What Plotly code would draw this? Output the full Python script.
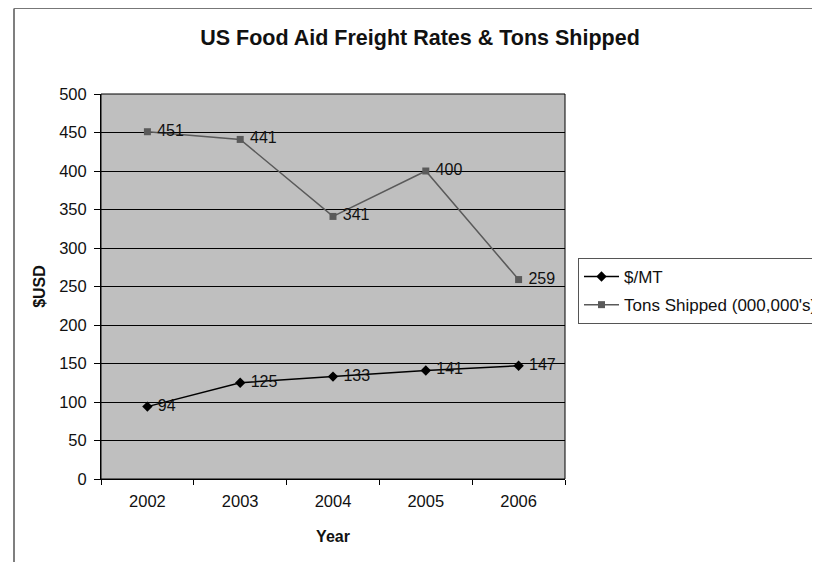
import plotly.graph_objects as go

years = ["2002", "2003", "2004", "2005", "2006"]
rate_usd_mt = [94, 125, 133, 141, 147]
tons_shipped = [451, 441, 341, 400, 259]
y_ticks = [0, 50, 100, 150, 200, 250, 300, 350, 400, 450, 500]

OFF = 8  # page body offset
W, H = 820, 562
L, R, T, B = 101 - OFF, 565 - OFF, 94 - OFF, 479 - OFF

fig = go.Figure()
fig.add_trace(go.Scatter(
    x=years, y=rate_usd_mt, name="$/MT", mode="lines+markers+text",
    legendgroup="a",
    line=dict(color="#000000", width=1.5),
    marker=dict(symbol="diamond", size=8, color="#000000"),
    text=[" " + str(v) for v in rate_usd_mt], textposition="middle right",
    textfont=dict(family="Liberation Sans, Arial", size=16, color="#111111"),
))
fig.add_trace(go.Scatter(
    x=years, y=tons_shipped, name="Tons Shipped (000,000's)", mode="lines+markers+text",
    legendgroup="b",
    line=dict(color="#5a5a5a", width=1.5),
    marker=dict(symbol="square", size=7, color="#5a5a5a"),
    text=[" " + str(v) for v in tons_shipped], textposition="middle right",
    textfont=dict(family="Liberation Sans, Arial", size=16, color="#111111"),
))

def px(x):
    return (x - OFF - L) / (R - L)

def py(y):
    return (B - (y - OFF)) / (B - T)

fig.update_layout(
    width=W, height=H,
    margin=dict(l=L, r=W - R, t=T, b=H - B, autoexpand=False),
    paper_bgcolor="white", plot_bgcolor="#bfbfbf",
    font=dict(family="Liberation Sans, Arial", size=14, color="#111111"),
    title=dict(text="<b>US Food Aid Freight Rates & Tons Shipped</b>",
               x=(420 - OFF) / W, xanchor="center", y=1 - (37 - OFF) / H, yanchor="middle",
               font=dict(size=21.5, color="#111111")),
    showlegend=True,
    legend=dict(x=px(578), y=py(258), xanchor="left", yanchor="top",
                bgcolor="white", bordercolor="#555555", borderwidth=1,
                font=dict(size=17, color="#111111"), tracegroupgap=3,
                itemwidth=35),
    xaxis=dict(type="category", range=[-0.5, 4.5], showgrid=False,
               showline=True, linecolor="#000000", linewidth=1,
               ticks="outside", tickson="boundaries", ticklen=5, tickcolor="#000000",
               tickfont=dict(size=16.5), ticklabelstandoff=7,
               title=dict(text="<b>Year</b>", font=dict(size=16), standoff=22)),
    yaxis=dict(range=[0, 500], tickvals=y_ticks, showgrid=True,
               gridcolor="#000000", gridwidth=1, zeroline=False,
               showline=True, linecolor="#000000", linewidth=1,
               ticks="outside", ticklen=6, tickcolor="#000000",
               tickfont=dict(size=16.5), ticklabelstandoff=4,
               title=dict(text="<b>$USD</b>", font=dict(size=16), standoff=9)),
    shapes=[
        dict(type="rect", xref="paper", yref="paper", x0=0, x1=1, y0=0, y1=1,
             line=dict(color="#000000", width=1), layer="above"),
        dict(type="line", xref="paper", yref="paper", x0=px(14), x1=px(14),
             y0=py(OFF + 0.5), y1=py(H + 20), line=dict(color="#555555", width=1.5)),
        dict(type="line", xref="paper", yref="paper", x0=px(14), x1=px(W + 20),
             y0=py(OFF + 0.5), y1=py(OFF + 0.5), line=dict(color="#777777", width=1)),
    ],
)

fig.write_html("out.html")
